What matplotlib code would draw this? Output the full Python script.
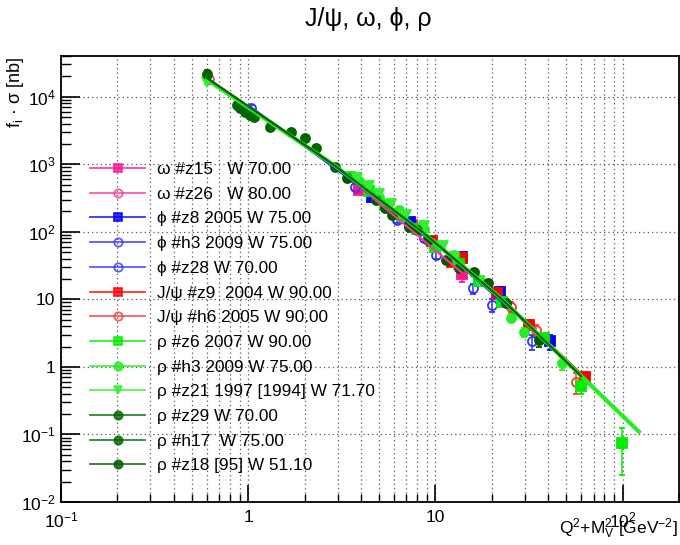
import math
import matplotlib
matplotlib.use("Agg")
import matplotlib.pyplot as plt
from matplotlib.ticker import LogLocator, FuncFormatter, NullFormatter
from matplotlib.lines import Line2D

plt.rcParams["font.family"] = ["Liberation Sans", "DejaVu Sans"]
plt.rcParams["mathtext.fontset"] = "custom"
plt.rcParams["mathtext.rm"] = "Liberation Sans"
plt.rcParams["mathtext.it"] = "Liberation Sans"

# data: x = Q^2 + M_V^2 [GeV^2], y = f_i * sigma [nb]
omega_z15_x = [3.9, 7.5, 13.8]
omega_z15_y = [420, 125, 24]
omega_z15_e = [60, 20, 6]

omega_z26_x = [0.62]
omega_z26_y = [18000]
omega_z26_e = [2500]

phi_z8_x = [4.6, 7.3, 13.8, 22.0, 40.8]
phi_z8_y = [330, 140, 43, 13, 2.4]
phi_z8_e = [40, 18, 6, 2, 0.6]

phi_h3_x = [3.7, 6.2, 8.7, 10.1, 15.8, 20.1, 32.7]
phi_h3_y = [464, 151, 81, 45, 14.5, 8.3, 2.4]
phi_h3_e = [50, 18, 10, 6, 2.5, 1.8, 0.6]

phi_z28_x = [1.04]
phi_z28_y = [6900]
phi_z28_e = [600]

jpsi_z9_x = [9.6, 12.3, 13.8, 21.4, 31.6, 62.7]
jpsi_z9_y = [72, 36, 41, 12.5, 4.2, 0.7]
jpsi_z9_e = [6, 4, 5, 1.8, 0.7, 0.15]

jpsi_h6_x = [9.6, 12.8, 25.4, 34.4, 56.5]
jpsi_h6_y = [68, 38, 7.7, 3.5, 0.6]
jpsi_h6_e = [6, 5, 1.3, 0.7, 0.2]

rho_z6_x = [3.5, 4.4, 5.4, 6.6, 8.0, 10.0, 13.3, 17.0, 22.7, 37.9, 59.9, 99.3]
rho_z6_y = [650, 400, 250, 170, 110, 60, 33, 19, 9, 2.7, 0.52, 0.075]
rho_z6_e = [50, 30, 20, 14, 9, 5, 3, 2, 1, 0.4, 0.12, 0.05]

rho_h3_x = [3.9, 5.0, 6.4, 8.7, 12.6, 25.4, 29.6, 47.2]
rho_h3_y = [560, 330, 212, 110, 45, 5.3, 3.3, 1.15]
rho_h3_e = [45, 25, 16, 9, 4, 0.7, 0.5, 0.25]

rho_z21_x = [0.6, 3.8, 4.4, 5.0, 5.8, 7.0, 8.7, 11.0, 12.6, 17.0]
rho_z21_y = [16700, 630, 470, 360, 260, 175, 120, 62, 42, 19]
rho_z21_e = [1500, 50, 40, 30, 22, 16, 11, 7, 5, 3]

rho_z29_x = [0.6]
rho_z29_y = [22000]
rho_z29_e = [2500]

rho_h17_x = [0.87, 0.90, 0.96, 1.02, 1.08, 1.30, 1.70, 2.0, 2.3, 2.9]
rho_h17_y = [7600, 6900, 6000, 5400, 5000, 3600, 3040, 2470, 1760, 920]
rho_h17_e = [600, 550, 480, 430, 400, 290, 240, 200, 140, 75]

rho_z18_x = [3.35, 4.84, 5.35, 5.84, 7.2, 8.0, 9.1, 11.4, 13.4, 16.1, 19.0, 23.9, 35.9]
rho_z18_y = [631, 298, 227, 179, 119, 105, 76, 38, 29, 25.5, 17.5, 8.9, 2.5]
rho_z18_e = [50, 25, 18, 14, 10, 9, 7, 4, 3, 3, 2, 1.2, 0.5]

# fit curves, nodes
fit_rho_x = [0.6, 2.83, 8.5, 22.7, 122]
fit_rho_y = [18000, 1000, 100, 10, 0.11]
fit_rho_dark_x = [0.6, 2.83, 8.5, 22.7, 60]
fit_rho_dark_y = [19000, 1000, 100, 10, 0.73]
fit_phi_x = [1.04, 8.5, 40.8]
fit_phi_y = [6900, 100, 2.2]
fit_jpsi_x = [9.6, 22.7, 63]
fit_jpsi_y = [75, 10, 0.7]
fit_omega_x = [0.62, 2.83, 13.8]
fit_omega_y = [18000, 1000, 25]

series = [
    ("ω #z15   W 70.00", omega_z15_x, omega_z15_y, omega_z15_e, "#ff1493", "s", True),
    ("ω #z26   W 80.00", omega_z26_x, omega_z26_y, omega_z26_e, "#ff3399", "o", False),
    ("ϕ #z8 2005 W 75.00", phi_z8_x, phi_z8_y, phi_z8_e, "#0000ff", "s", True),
    ("ϕ #h3 2009 W 75.00", phi_h3_x, phi_h3_y, phi_h3_e, "#3333ff", "o", False),
    ("ϕ #z28 W 70.00", phi_z28_x, phi_z28_y, phi_z28_e, "#3333ff", "o", False),
    ("J/ψ #z9  2004 W 90.00", jpsi_z9_x, jpsi_z9_y, jpsi_z9_e, "#ff0000", "s", True),
    ("J/ψ #h6 2005 W 90.00", jpsi_h6_x, jpsi_h6_y, jpsi_h6_e, "#ff3333", "o", False),
    ("ρ #z6 2007 W 90.00", rho_z6_x, rho_z6_y, rho_z6_e, "#00ee00", "s", True),
    ("ρ #h3 2009 W 75.00", rho_h3_x, rho_h3_y, rho_h3_e, "#22ee22", "o", True),
    ("ρ #z21 1997 [1994] W 71.70", rho_z21_x, rho_z21_y, rho_z21_e, "#33ee33", "v", True),
    ("ρ #z29 W 70.00", rho_z29_x, rho_z29_y, rho_z29_e, "#006600", "o", True),
    ("ρ #h17  W 75.00", rho_h17_x, rho_h17_y, rho_h17_e, "#006600", "o", True),
    ("ρ #z18 [95] W 51.10", rho_z18_x, rho_z18_y, rho_z18_e, "#005a00", "o", True),
]

fig = plt.figure(figsize=(6.8, 5.45), dpi=100)
ax = fig.add_axes([61 / 680, 43 / 545, 618 / 680, 446 / 545])
ax.set_xscale("log")
ax.set_yscale("log")
ax.set_xlim(0.1, 200)
ax.set_ylim(0.01, 4e4)

handles = []
for label, x, y, e, col, mk, filled in series:
    ax.errorbar(x, y, yerr=e, fmt=mk, color=col, ms=6.5, mew=1.3,
                mfc=col if filled else "none", mec=col, elinewidth=1.1,
                capsize=2, zorder=2)
    handles.append(Line2D([], [], color=col, lw=1.3, alpha=0.8, marker=mk, ms=6,
                          mfc=col if filled else "none", mec=col, mew=1.3))

ax.plot(fit_omega_x, fit_omega_y, color="#ff3399", lw=1.5, zorder=3)
ax.plot(fit_phi_x, fit_phi_y, color="#0000ff", lw=1.5, zorder=3)
ax.plot(fit_jpsi_x, fit_jpsi_y, color="#ff0000", lw=1.5, zorder=3)
ax.plot(fit_rho_x, fit_rho_y, color="#22ee22", lw=3, zorder=4)
ax.plot(fit_rho_dark_x, fit_rho_dark_y, color="#0b5e0b", lw=1.6, zorder=5)

# ROOT-like axes
ax.xaxis.set_major_locator(LogLocator(base=10))
ax.xaxis.set_minor_locator(LogLocator(base=10, subs=range(2, 10)))
ax.yaxis.set_major_locator(LogLocator(base=10))
ax.yaxis.set_minor_locator(LogLocator(base=10, subs=range(2, 10), numticks=20))


def root_fmt(v, pos):
    n = int(round(math.log10(v)))
    if n == 0:
        return "1"
    if n == 1:
        return "10"
    return r"$\mathrm{10^{%d}}$" % n


ax.xaxis.set_major_formatter(FuncFormatter(root_fmt))
ax.yaxis.set_major_formatter(FuncFormatter(root_fmt))
ax.xaxis.set_minor_formatter(NullFormatter())
ax.yaxis.set_minor_formatter(NullFormatter())
ax.tick_params(which="both", direction="in", top=False, right=False, labelsize=12.5)
ax.tick_params(axis="y", which="major", length=14, width=1.2, pad=4)
ax.tick_params(axis="y", which="minor", length=7, width=1)
ax.tick_params(axis="x", which="major", length=12, width=1.2, pad=6)
ax.tick_params(axis="x", which="minor", length=6, width=1)
for s in ax.spines.values():
    s.set_linewidth(1.3)

ax.grid(True, which="both", axis="x", color="#555555", ls=(0, (1, 2.5)), lw=0.9)
ax.grid(True, which="major", axis="y", color="#555555", ls=(0, (1, 2.5)), lw=0.9)
ax.set_axisbelow(True)

fig.text(368 / 680, 1 - 19 / 545, "J/ψ, ω, ϕ, ρ", ha="center", va="center", fontsize=18)
fig.text(15 / 680, 1 - 57 / 545, "f$_\\mathrm{i}$ · σ [nb]", rotation=90,
         ha="center", va="top", fontsize=13)
fig.text(678 / 680, 1 - 529 / 545, "Q$^\\mathrm{2}$+M$_\\mathrm{V}^\\mathrm{2}$ [GeV$^\\mathrm{-2}$]",
         ha="right", va="center", fontsize=12.5)

ax.legend(handles, [s[0] for s in series], loc="upper left",
          bbox_to_anchor=(90 / 680, 1 - 162 / 545), bbox_transform=fig.transFigure,
          frameon=False, fontsize=12.4, handlelength=3.2, handletextpad=0.7,
          labelspacing=0.56, borderpad=0, borderaxespad=0)

fig.savefig("out.png", dpi=100)
